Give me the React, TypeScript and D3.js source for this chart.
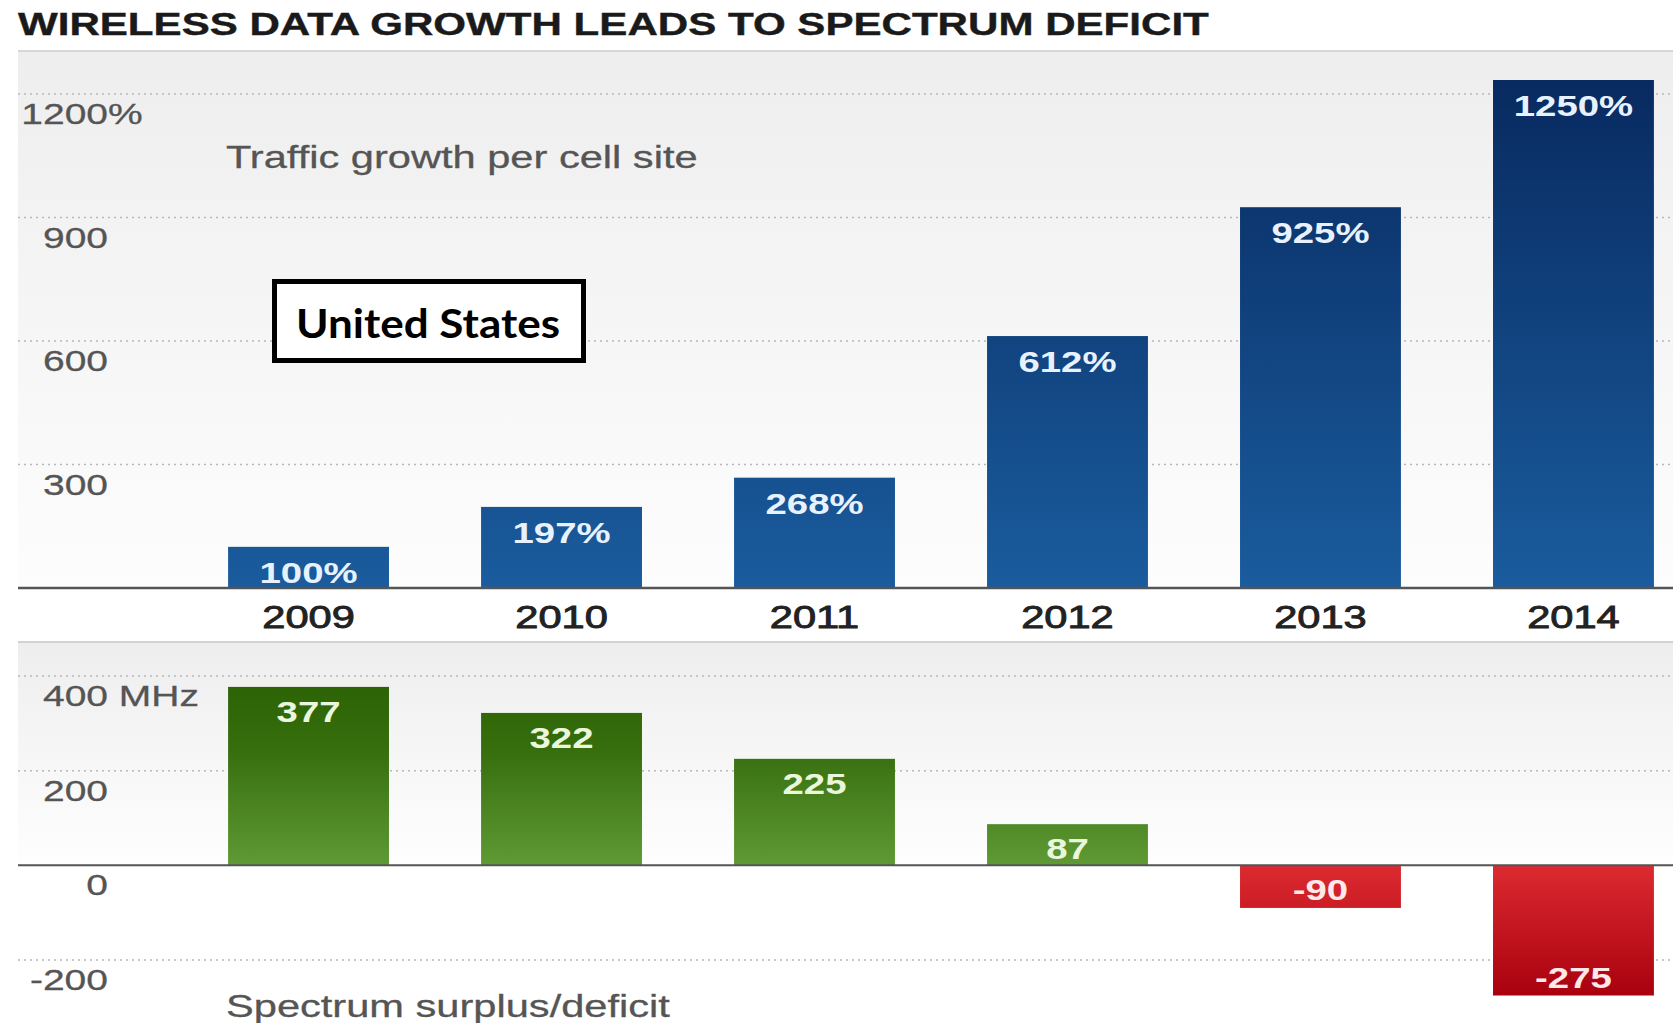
import React from "react";
import * as d3 from "d3";

const years = ["2009", "2010", "2011", "2012", "2013", "2014"];
const trafficGrowth = [100, 197, 268, 612, 925, 1250];
const spectrum = [377, 322, 225, 87, -90, -275];
const trafficTicks = [300, 600, 900, 1200];
const spectrumTicks = [400, 200, 0, -200];
const title = "WIRELESS DATA GROWTH LEADS TO SPECTRUM DEFICIT";
const trafficLabel = "Traffic growth per cell site";
const spectrumLabel = "Spectrum surplus/deficit";
const countryLabel = "United States";

const W = 1673;
const H = 1023;
const FONT = "'Liberation Sans', Arial, Helvetica, sans-serif";
const SX = 1.3;

function T(props: {
  x: number; y: number; anchor?: string; size: number; weight?: string | number;
  fill: string; children: React.ReactNode; stroke?: string; strokeWidth?: number; len?: number;
}) {
  const { x, y, anchor = "start", size, weight = "normal", fill, children, stroke, strokeWidth, len } = props;
  return (
    <text
      transform={`translate(${x},${y}) scale(${SX},1)`}
      textAnchor={anchor}
      fontSize={size}
      fontWeight={weight}
      fill={fill}
      stroke={stroke}
      strokeWidth={strokeWidth}
      fontFamily={FONT}
      textLength={len}
      lengthAdjust={len ? "spacingAndGlyphs" : undefined}
    >
      {children}
    </text>
  );
}

export default function App() {
  const left = 18;
  const x = d3.scaleBand<string>().domain(years).range([136, 1746]).paddingInner(0.364).paddingOuter(0.364);
  const yTop = d3.scaleLinear().domain([0, 1200]).range([588, 94]);
  const yBot = d3.scaleLinear().domain([-200, 400]).range([960, 676]);
  const bw = x.bandwidth();
  const topClip = 80;

  return (
    <svg width={W} height={H} style={{ position: "absolute", left: 0, top: 0, background: "#fff" }}>
      <defs>
        <linearGradient id="bgTop" x1="0" y1="0" x2="0" y2="1">
          <stop offset="0" stopColor="#eeeeee" />
          <stop offset="1" stopColor="#fdfdfd" />
        </linearGradient>
        <linearGradient id="bgBot" x1="0" y1="0" x2="0" y2="1">
          <stop offset="0" stopColor="#eeeeee" />
          <stop offset="1" stopColor="#fefefe" />
        </linearGradient>
        <linearGradient id="blueGrad" gradientUnits="userSpaceOnUse" x1="0" y1="80" x2="0" y2="588">
          <stop offset="0" stopColor="#082a60" />
          <stop offset="1" stopColor="#1a5c9e" />
        </linearGradient>
        <linearGradient id="greenGrad" gradientUnits="userSpaceOnUse" x1="0" y1="690" x2="0" y2="866">
          <stop offset="0" stopColor="#2c6406" />
          <stop offset="0.35" stopColor="#376f0e" />
          <stop offset="1" stopColor="#5f9a35" />
        </linearGradient>
        <linearGradient id="redGrad" gradientUnits="userSpaceOnUse" x1="0" y1="866" x2="0" y2="998">
          <stop offset="0" stopColor="#dc2a30" />
          <stop offset="1" stopColor="#a8000e" />
        </linearGradient>
        <clipPath id="topClip">
          <rect x={0} y={topClip} width={W} height={600 - topClip} />
        </clipPath>
      </defs>

      {/* Title */}
      <T x={left} y={35} size={32} weight="bold" fill="#1a1a1a" stroke="#1a1a1a" strokeWidth={0.4} len={916}>{title}</T>
      <line x1={left} x2={W} y1={51} y2={51} stroke="#d6d6d6" strokeWidth={2} />

      {/* Upper panel background */}
      <rect x={left} y={52} width={W - left} height={yTop(0) - 52} fill="url(#bgTop)" />
      {/* Lower panel background */}
      <line x1={left} x2={W} y1={642} y2={642} stroke="#d2d2d2" strokeWidth={2} />
      <rect x={left} y={643} width={W - left} height={yBot(0) - 643} fill="url(#bgBot)" />

      {/* Upper grid */}
      {trafficTicks.map((t) => (
        <g key={"tt" + t}>
          <line x1={left} x2={W} y1={yTop(t)} y2={yTop(t)} stroke="#b8b8b8" strokeWidth={1.5} strokeDasharray="2,4" />
          <T x={108} y={yTop(t) + 30} anchor="end" size={30} fill="#555" stroke="#555" strokeWidth={0.3}>{String(t)}</T>
          {t === 1200 && <T x={108} y={yTop(t) + 30} size={30} fill="#555" stroke="#555" strokeWidth={0.3}>%</T>}
        </g>
      ))}
      <T x={226} y={168} size={32} fill="#555" stroke="#555" strokeWidth={0.3}>{trafficLabel}</T>

      {/* Upper bars */}
      <g clipPath="url(#topClip)">
        {years.map((yr, i) => (
          <rect key={"b" + yr} x={x(yr)} y={yTop(trafficGrowth[i])} width={bw} height={yTop(0) - yTop(trafficGrowth[i])} fill="url(#blueGrad)" />
        ))}
      </g>
      {years.map((yr, i) => (
        <T key={"bl" + yr} x={(x(yr) as number) + bw / 2} y={Math.max(yTop(trafficGrowth[i]), topClip) + 36} anchor="middle" size={29.5} weight="bold" fill="#e8f2ff">
          {trafficGrowth[i] + "%"}
        </T>
      ))}
      <line x1={left} x2={W} y1={yTop(0)} y2={yTop(0)} stroke="#555" strokeWidth={2.5} />

      {/* Year labels */}
      {years.map((yr) => (
        <T key={"yl" + yr} x={(x(yr) as number) + bw / 2} y={628} anchor="middle" size={32} fill="#222" stroke="#222" strokeWidth={0.9}>{yr}</T>
      ))}

      {/* Country box */}
      <rect x={274.5} y={281.5} width={309} height={79} fill="#fff" stroke="#000" strokeWidth={5} />
      <text x={428} y={338} textAnchor="middle" fontSize={41} fontWeight="bold" fontFamily="Lato, 'Open Sans', sans-serif" fill="#000" textLength={264} lengthAdjust="spacingAndGlyphs">
        {countryLabel}
      </text>

      {/* Lower grid */}
      {spectrumTicks.map((t) => (
        <g key={"st" + t}>
          {t !== 0 && <line x1={left} x2={W} y1={yBot(t)} y2={yBot(t)} stroke="#b8b8b8" strokeWidth={1.5} strokeDasharray="2,4" />}
          <T x={108} y={yBot(t) + 30} anchor="end" size={30} fill="#555" stroke="#555" strokeWidth={0.3}>{String(t)}</T>
          {t === 400 && <T x={108} y={yBot(t) + 30} size={30} fill="#555" stroke="#555" strokeWidth={0.3}>{"\u00a0MHz"}</T>}
        </g>
      ))}

      {/* Lower bars */}
      {years.map((yr, i) => {
        const v = spectrum[i];
        const y0 = yBot(0);
        const y1 = yBot(v);
        const top = Math.min(y0, y1);
        const h = Math.abs(y1 - y0);
        return (
          <g key={"s" + yr}>
            <rect x={x(yr)} y={top} width={bw} height={h} fill={v >= 0 ? "url(#greenGrad)" : "url(#redGrad)"} />
            <T
              x={(x(yr) as number) + bw / 2}
              y={v >= 0 ? y1 + 35 : y1 - 8}
              anchor="middle"
              size={29.5}
              weight="bold"
              fill={v >= 0 ? "#eaf7dc" : "#fde9e9"}
            >
              {String(v)}
            </T>
          </g>
        );
      })}
      <line x1={left} x2={W} y1={yBot(0)} y2={yBot(0)} stroke="#555" strokeWidth={2} />

      <T x={226} y={1017} size={32} fill="#555" stroke="#555" strokeWidth={0.3}>{spectrumLabel}</T>
    </svg>
  );
}
